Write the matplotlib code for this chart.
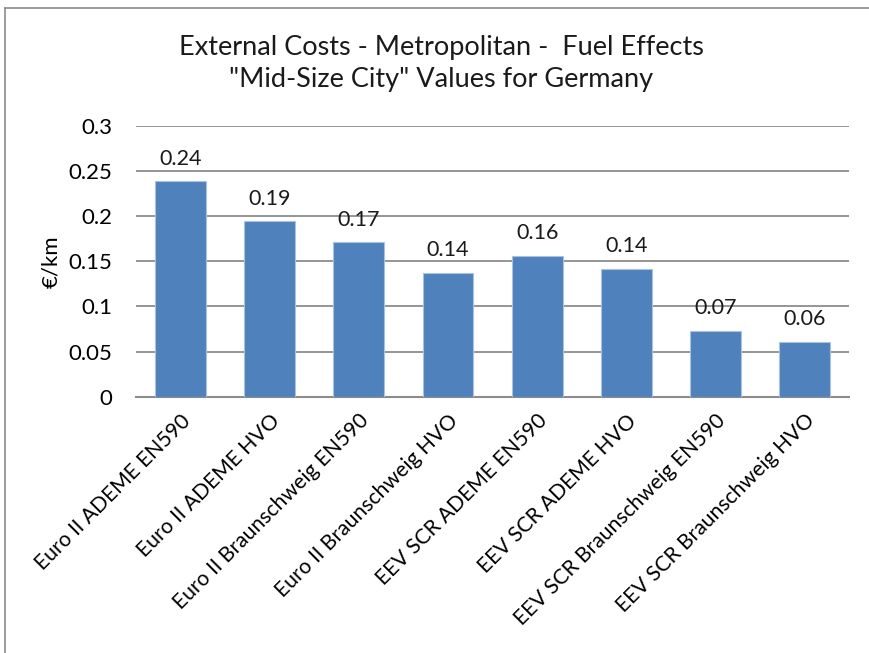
import matplotlib
matplotlib.use("Agg")
import matplotlib.pyplot as plt
from matplotlib.lines import Line2D

categories = ["Euro II ADEME EN590", "Euro II ADEME HVO", "Euro II Braunschweig EN590",
              "Euro II Braunschweig HVO", "EEV SCR ADEME EN590", "EEV SCR ADEME HVO",
              "EEV SCR Braunschweig EN590", "EEV SCR Braunschweig HVO"]
values = [0.2385, 0.194, 0.171, 0.137, 0.156, 0.1417, 0.073, 0.061]
value_labels = ["0.24", "0.19", "0.17", "0.14", "0.16", "0.14", "0.07", "0.06"]
yticks = [0, 0.05, 0.1, 0.15, 0.2, 0.25, 0.3]
ytick_labels = ["0", "0.05", "0.1", "0.15", "0.2", "0.25", "0.3"]

plt.rcParams['font.family'] = ['Lato', 'DejaVu Sans']

W, H = 870, 653
fig = plt.figure(figsize=(W / 100, H / 100), dpi=100)
ax = fig.add_axes([136 / W, 1 - 396.7 / H, (849.3 - 136) / W, (396.7 - 125.7) / H])

x = list(range(len(categories)))
bars = ax.bar(x, values, width=0.57, color="#4F81BD", edgecolor="#A9C2E0", linewidth=0.8, zorder=3)
for xi, v, lab in zip(x, values, value_labels):
    ax.annotate(lab, (xi, v), xytext=(0, 9), textcoords="offset points",
                ha="center", va="bottom", fontsize=15.5, color="#1a1a1a")

ax.set_xlim(-0.5, len(categories) - 0.5)
ax.set_ylim(0, 0.3)
ax.set_yticks(yticks)
ax.set_yticklabels(ytick_labels, fontsize=16)
ax.yaxis.grid(True, color="#8C8C8C", linewidth=1.3, zorder=0)
ax.set_axisbelow(True)
ax.tick_params(axis="y", length=0, pad=17)
ax.tick_params(axis="x", length=0, pad=10)
ax.set_xticks(x)
ax.set_xticklabels(categories, rotation=45, ha="right", rotation_mode="anchor", fontsize=15.2)
for s in ["top", "right", "left"]:
    ax.spines[s].set_visible(False)
ax.spines["bottom"].set_color("#8C8C8C")
ax.spines["bottom"].set_linewidth(1.5)
ax.set_ylabel("€/km", fontsize=16, rotation=90, ha="center", va="center")
ax.yaxis.set_label_coords((51 - 136) / (849.3 - 136), 0.5)

fig.text(441 / W, 1 - 63 / H,
         "External Costs - Metropolitan -  Fuel Effects\n\"Mid-Size City\" Values for Germany",
         ha="center", va="center", fontsize=19.5, linespacing=1.35, color="#1a1a1a")

fig.add_artist(Line2D([5 / W, 5 / W], [0, 1 - 8 / H], transform=fig.transFigure, color="#8C8C8C", linewidth=1.2))
fig.add_artist(Line2D([5 / W, 1], [1 - 8 / H, 1 - 8 / H], transform=fig.transFigure, color="#8C8C8C", linewidth=1.2))

fig.savefig("out.png", dpi=100)
